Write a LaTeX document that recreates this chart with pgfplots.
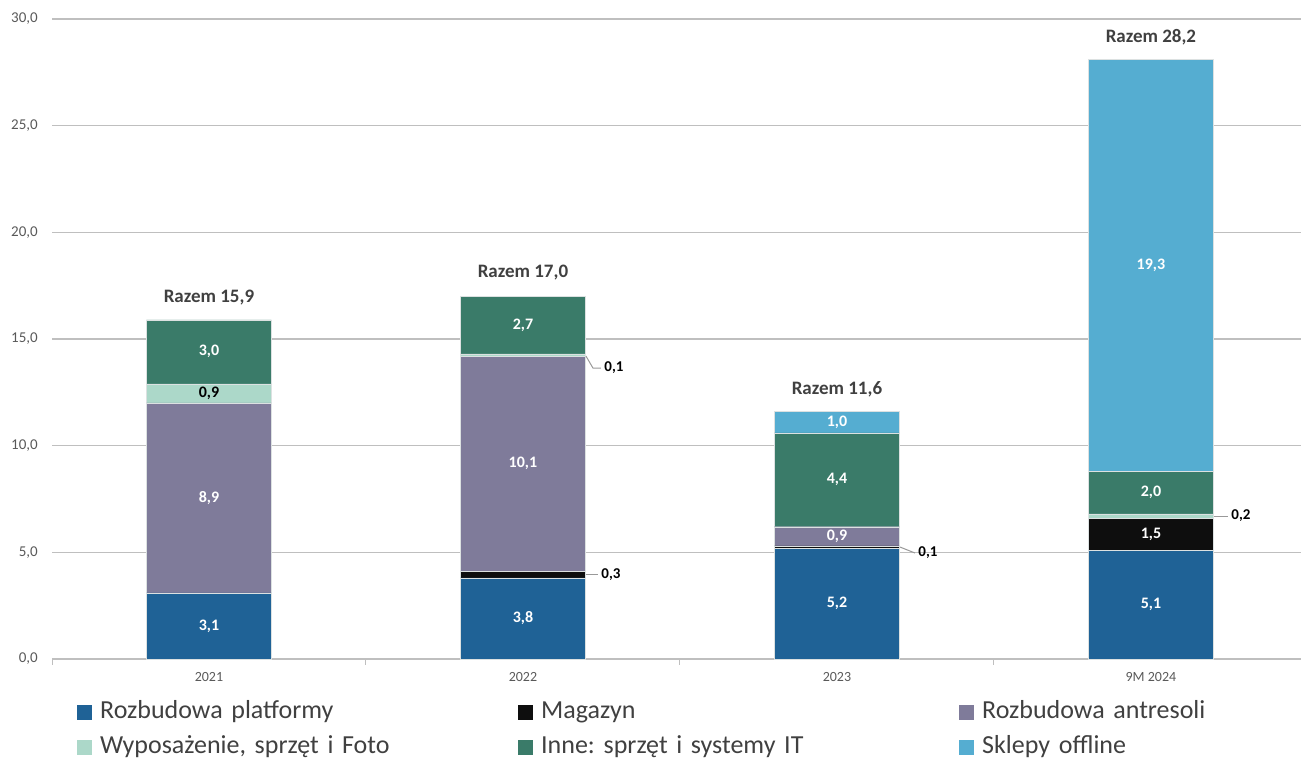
\documentclass[border=0pt]{standalone}
\usepackage{pgfplots}
\pgfplotsset{compat=1.18}
\usepackage{fontspec}
\setmainfont{Carlito}
\frenchspacing
\definecolor{cPlat}{RGB}{31,98,150}
\definecolor{cMag}{RGB}{14,14,14}
\definecolor{cAnt}{RGB}{127,123,154}
\definecolor{cWyp}{RGB}{172,216,201}
\definecolor{cInne}{RGB}{58,123,105}
\definecolor{cSkl}{RGB}{85,173,209}
\definecolor{gridc}{RGB}{191,191,191}
\definecolor{tickc}{RGB}{89,89,89}
\definecolor{razc}{RGB}{64,64,64}
\definecolor{legc}{RGB}{64,64,64}
\definecolor{barb}{RGB}{220,225,225}
\pgfplotsset{mylegend/.style={legend image code/.code={\fill[##1,draw=none] (0pt,-7.5pt) rectangle (15pt,7.5pt);}}}
\begin{document}
\begin{tikzpicture}[x=1pt,y=1pt]
\useasboundingbox (0,0) rectangle (1301,760);
\begin{axis}[
 at={(52pt,101pt)}, anchor=south west,
 scale only axis, width=1249pt, height=640pt,
 ybar stacked, bar width=125pt,
 xmin=-0.5, xmax=3.478, ymin=0, ymax=30,
 xtick={0,1,2,3}, xticklabels={2021,2022,2023,9M 2024},
 minor xtick={-0.5,0.5,1.5,2.5},
 ytick={0,5,...,30},
 axis x line*=bottom, axis y line*=left,
 x axis line style={draw=gridc, line width=1.2pt, -},
 y axis line style={draw=none},
 major tick length=0pt, minor tick length=6pt, tick align=outside,
 minor tick style={draw=gridc, line width=1pt},
 ymajorgrids, major grid style={draw=gridc, line width=1.2pt},
 yticklabel style={font=\fontsize{15}{18}\selectfont, text=tickc, inner sep=0pt, xshift=-14pt},
 xticklabel style={font=\fontsize{14}{17}\selectfont, text=tickc, inner sep=0pt, yshift=-13pt},
 /pgf/number format/.cd, fixed, fixed zerofill, precision=1, use comma, assume math mode=true,
 /pgfplots/.cd,
 every axis plot/.append style={draw=barb, line width=0.4pt},
 legend style={at={(0.02,-0.056)}, anchor=north west, draw=none, fill=none, inner sep=0pt,
   font=\fontsize{26}{30}\selectfont, text=legc,
   /tikz/every even column/.append style={column sep=0pt},
   nodes={text width=410pt, inner xsep=8pt, text height=18pt, text depth=6pt, inner ysep=5.5pt, align=left}},
 legend columns=3, legend cell align=left,
 clip=false,
]
\addplot[fill=cPlat, mylegend] coordinates {(0,3.1) (1,3.8) (2,5.2) (3,5.1)};
\addplot[fill=cMag, mylegend] coordinates {(0,0) (1,0.3) (2,0.1) (3,1.5)};
\addplot[fill=cAnt, mylegend] coordinates {(0,8.9) (1,10.1) (2,0.9) (3,0)};
\addplot[fill=cWyp, mylegend] coordinates {(0,0.9) (1,0.1) (2,0) (3,0.2)};
\addplot[fill=cInne, mylegend] coordinates {(0,3.0) (1,2.7) (2,4.4) (3,2.0)};
\addplot[fill=cSkl, mylegend] coordinates {(0,0) (1,0) (2,1.0) (3,19.3)};
\legend{Rozbudowa platformy, Magazyn, Rozbudowa antresoli, {Wyposażenie, sprzęt i Foto}, {Inne: sprzęt i systemy IT}, Sklepy offline}
% anchor coordinates for labels
\coordinate (a1) at (axis cs:0,1.55);
\coordinate (a2) at (axis cs:0,7.55);
\coordinate (a3) at (axis cs:0,12.45);
\coordinate (a4) at (axis cs:0,14.4);
\coordinate (a5) at (axis cs:0,15.9);
\coordinate (b1) at (axis cs:1,1.9);
\coordinate (b2) at (axis cs:1,9.15);
\coordinate (b3) at (axis cs:1,15.65);
\coordinate (b4) at (axis cs:1,17.0);
\coordinate (b5) at (axis cs:1,3.95);
\coordinate (b6) at (axis cs:1,14.2);
\coordinate (c1) at (axis cs:2,2.6);
\coordinate (c2) at (axis cs:2,5.75);
\coordinate (c3) at (axis cs:2,8.4);
\coordinate (c4) at (axis cs:2,11.1);
\coordinate (c5) at (axis cs:2,11.6);
\coordinate (c6) at (axis cs:2,5.25);
\coordinate (d1) at (axis cs:3,2.55);
\coordinate (d2) at (axis cs:3,5.85);
\coordinate (d3) at (axis cs:3,7.8);
\coordinate (d4) at (axis cs:3,18.45);
\coordinate (d5) at (axis cs:3,28.1);
\coordinate (d6) at (axis cs:3,6.7);
\end{axis}
\tikzset{lw/.style={font=\fontsize{16}{19}\selectfont\bfseries, text=white},
 lb/.style={font=\fontsize{16}{19}\selectfont\bfseries, text=black},
 lo/.style={font=\fontsize{15}{18}\selectfont\bfseries, text=black, anchor=west, inner sep=3pt},
 rz/.style={font=\fontsize{19}{22}\selectfont\bfseries, text=razc},
 lead/.style={draw=gray!80, line width=1pt}}
% 2021
\node[lw] at (a1) {3,1};
\node[lw] at (a2) {8,9};
\node[lb] at (a3) {0,9};
\node[lw] at (a4) {3,0};
\node[rz] at ([yshift=22pt]a5) {Razem 15,9};
% 2022
\node[lw] at (b1) {3,8};
\node[lw] at (b2) {10,1};
\node[lw] at (b3) {2,7};
\node[rz] at ([yshift=24pt]b4) {Razem 17,0};
\draw[lead] ([xshift=63pt]b5) -- ++(12pt,0) node[lo] {0,3};
\draw[lead] ([xshift=63pt]b6) -- ++(7pt,-12pt) -- ++(8pt,0) node[lo] {0,1};
% 2023
\node[lw] at (c1) {5,2};
\node[lw] at (c2) {0,9};
\node[lw] at (c3) {4,4};
\node[lw] at (c4) {1,0};
\node[rz] at ([yshift=22pt]c5) {Razem 11,6};
\draw[lead] ([xshift=63pt]c6) -- ++(15pt,-6pt) node[lo] {0,1};
% 9M 2024
\node[lw] at (d1) {5,1};
\node[lw] at (d2) {1,5};
\node[lw] at (d3) {2,0};
\node[lw] at (d4) {19,3};
\node[rz] at ([yshift=22pt]d5) {Razem 28,2};
\draw[lead] ([xshift=63pt]d6) -- ++(14pt,0) node[lo] {0,2};
\end{tikzpicture}
\end{document}
